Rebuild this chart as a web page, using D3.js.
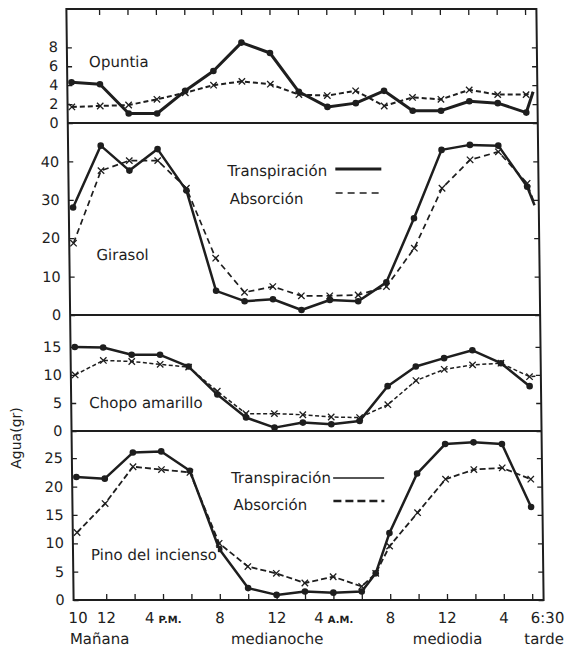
<!DOCTYPE html>
<html><head><meta charset="utf-8">
<script src="https://cdn.jsdelivr.net/npm/d3@7"></script>
<style>
body{margin:0;background:#fff}
svg{display:block}
text{font-family:"DejaVu Sans",sans-serif;fill:#1e1e1e}
</style>
</head><body>
<svg id="chart" width="566" height="648"></svg>
<script>
// ---- data (hours after midnight of day 1; 42.5 = 6:30 p.m. day 2) ----
const hours    = [10,12,14,16,18,20,22,24,26,28,30,32,34,36,38,40,42];
const hoursEnd = [10,12,14,16,18,20,22,24,26,28,30,32,34,36,38,40,42,42.5];
const pinoHours= [10,12,14,16,18,20,22,24,26,28,30,31,32,34,36,38,40,42];

const opuntiaTrans = [4.3,4.1,1.0,1.0,3.4,5.5,8.5,7.4,3.3,1.7,2.1,3.4,1.3,1.3,2.3,2.1,1.1,3.3];
const opuntiaAbs   = [1.7,1.8,1.9,2.5,3.2,4.0,4.4,4.1,3.0,2.9,3.4,1.8,2.7,2.5,3.5,3.0,3.0,3.2];

const girasolTrans = [28,44.1,37.6,43.2,32.4,6.3,3.6,4.1,1.3,3.9,3.6,8.5,25.2,43,44.3,44.1,33.4,28.6];
const girasolAbs   = [18.7,37.6,40.2,40.2,33,14.8,5.9,7.4,5.0,5.0,5.2,7.4,17.4,33,40.4,42.5,34.3,29];

const chopoTrans = [15,14.9,13.6,13.6,11.5,6.5,2.4,0.6,1.5,1.2,1.8,8.0,11.5,13.0,14.4,12.1,8.0];
const chopoAbs   = [10,12.6,12.4,11.9,11.4,7.1,3.1,3.1,2.9,2.5,2.4,4.7,9.0,11.0,11.8,12.1,9.7,9.8];

const pinoTrans = [21.7,21.4,26.0,26.2,22.8,9,2.1,0.9,1.5,1.3,1.5,4.7,11.8,22.3,27.5,27.8,27.5,16.4];
const pinoAbs   = [11.9,17,23.5,23.0,22.5,10,5.9,4.7,3.0,4.1,2.4,4.7,9.5,15.4,21.3,23.0,23.3,21.3];

const opuntiaTicks = [0,2,4,6,8];
const girasolTicks = [0,10,20,30,40];
const chopoTicks   = [0,5,10,15];
const pinoTicks    = [0,5,10,15,20,25];

const xTickHours  = [12,14,16,18,20,22,24,26,28,30,32,34,36,38,40,42];
const xLabelHours = [10,12,16,20,24,28,32,36,40,42.5];
const xLabelMain  = ["10","12","4","8","12","4","8","12","4","6:30"];
const xLabelSub   = ["","","P.M.","","","A.M.","","","",""];
const periodHours = [11.5,24,36,42.8];
const periodNames = ["Mañana","medianoche","mediodia","tarde"];

const legendNames = ["Transpiración","Absorción"];
const yTitle = "Agua(gr)";

// ---- layout ----
const L = 70, R = 540;
const ink = "#1e1e1e";
const svg = d3.select("#chart");
const g = svg.append("g").attr("transform","translate(0,305) skewX(0.7) translate(0,-305)");
const x = d3.scaleLinear().domain([9.7, 42.8]).range([L, R]);

const panels = [
  {name:"Opuntia", bottom:123, top:9, max:12.05, ticks:opuntiaTicks,
   tH:hoursEnd, t:opuntiaTrans, aH:hoursEnd, a:opuntiaAbs,
   tw:3, aw:2, dash:"5,3", label:[92,67]},
  {name:"Girasol", bottom:315, top:123, max:50, ticks:girasolTicks,
   tH:hoursEnd, t:girasolTrans, aH:hoursEnd, a:girasolAbs,
   tw:2.5, aw:1.7, dash:"6,4", label:[97,260],
   legend:{tx:229, ty:176, ay:204, lx1:337, lx2:383, ly1:169, ly2:193, tw:3, aw:1.4, dash:"7,5"}},
  {name:"Chopo amarillo", bottom:431, top:315, max:20.7, ticks:chopoTicks,
   tH:hours, t:chopoTrans, aH:hoursEnd, a:chopoAbs,
   tw:2.5, aw:1.5, dash:"4,2.5", label:[88,408]},
  {name:"Pino del incienso", bottom:600, top:431, max:29.8, ticks:pinoTicks,
   tH:pinoHours, t:pinoTrans, aH:pinoHours, a:pinoAbs,
   tw:2.5, aw:1.8, dash:"6,3", label:[88,560],
   legend:{tx:229, ty:483, ay:510, lx1:331, lx2:382, ly1:478, ly2:501, tw:1.6, aw:2.6, dash:"8,4"}}
];

panels.forEach(p => {
  const y = d3.scaleLinear().domain([0, p.max]).range([p.bottom, p.top]);
  const pg = g.append("g");

  // y axes (inner ticks)
  const ay = pg.append("g").attr("transform",`translate(${L},0)`)
    .call(d3.axisLeft(y).tickValues(p.ticks).tickSize(-5).tickPadding(9).tickFormat(d3.format("d")));
  ay.attr("font-size",14.5).attr("font-family","DejaVu Sans");
  ay.select(".domain").remove();
  ay.selectAll("line").attr("stroke",ink).attr("stroke-width",1.3);
  ay.selectAll("text").attr("fill",ink);
  const ayr = pg.append("g").attr("transform",`translate(${R},0)`)
    .call(d3.axisRight(y).tickValues(p.ticks).tickSize(-5).tickFormat(""));
  ayr.select(".domain").remove();
  ayr.selectAll("line").attr("stroke",ink).attr("stroke-width",1.3);

  const line = d3.line().x(d => x(d[0])).y(d => y(d[1]));
  const tData = p.tH.map((h,i) => [h, p.t[i]]);
  const aData = p.aH.map((h,i) => [h, p.a[i]]);

  pg.append("path").datum(aData).attr("d", line).attr("fill","none")
    .attr("stroke",ink).attr("stroke-width",p.aw).attr("stroke-dasharray",p.dash);
  pg.append("path").datum(tData).attr("d", line).attr("fill","none")
    .attr("stroke",ink).attr("stroke-width",p.tw).attr("stroke-linejoin","round");

  pg.selectAll(".xm").data(aData.filter(d => d[0] <= 42)).enter().append("path")
    .attr("d", d => { const cx = x(d[0]), cy = y(d[1]), s = 3.2;
      return `M${cx-s},${cy-s}L${cx+s},${cy+s}M${cx-s},${cy+s}L${cx+s},${cy-s}`; })
    .attr("stroke",ink).attr("stroke-width",1.3);
  pg.selectAll(".dot").data(tData.filter(d => d[0] <= 42)).enter().append("circle")
    .attr("cx", d => x(d[0])).attr("cy", d => y(d[1])).attr("r", 3.3).attr("fill",ink);

  // panel name with white backing
  const bg = pg.append("rect").attr("fill","#fff");
  const nt = pg.append("text").attr("x",p.label[0]).attr("y",p.label[1])
    .attr("font-size",15).text(p.name);
  const bb = nt.node().getBBox();
  bg.attr("x",bb.x-1).attr("y",bb.y+2).attr("width",bb.width+2).attr("height",Math.max(0,bb.height-4));

  if (p.legend) {
    const lg = p.legend;
    pg.append("text").attr("x",lg.tx).attr("y",lg.ty).attr("font-size",15).text(legendNames[0]);
    pg.append("text").attr("x",lg.tx+2).attr("y",lg.ay).attr("font-size",15).text(legendNames[1]);
    pg.append("line").attr("x1",lg.lx1).attr("x2",lg.lx2).attr("y1",lg.ly1).attr("y2",lg.ly1)
      .attr("stroke",ink).attr("stroke-width",lg.tw);
    pg.append("line").attr("x1",lg.lx1).attr("x2",lg.lx2).attr("y1",lg.ly2).attr("y2",lg.ly2)
      .attr("stroke",ink).attr("stroke-width",lg.aw).attr("stroke-dasharray",lg.dash);
  }
});

// frame and separators
g.append("rect").attr("x",L).attr("y",9).attr("width",R-L).attr("height",591)
  .attr("fill","none").attr("stroke",ink).attr("stroke-width",2);
panels.slice(0,3).forEach(p => {
  g.append("line").attr("x1",L).attr("x2",R).attr("y1",p.bottom).attr("y2",p.bottom)
    .attr("stroke",ink).attr("stroke-width",2);
});

// x ticks top & bottom (inner)
const axT = g.append("g").attr("transform","translate(0,9)")
  .call(d3.axisTop(x).tickValues(xTickHours).tickSize(-6).tickFormat(""));
axT.select(".domain").remove();
axT.selectAll("line").attr("stroke",ink).attr("stroke-width",1.3);
const axB = g.append("g").attr("transform","translate(0,600)")
  .call(d3.axisBottom(x).tickValues(xTickHours).tickSize(-6).tickFormat(""));
axB.select(".domain").remove();
axB.selectAll("line").attr("stroke",ink).attr("stroke-width",1.3);

// x labels
xLabelHours.forEach((h,i) => {
  const t = g.append("text").attr("x", x(h) + (h === 42.5 ? 8 : 0)).attr("y", 623)
    .attr("text-anchor","middle").attr("font-size",15);
  t.append("tspan").text(xLabelMain[i]);
  if (xLabelSub[i]) t.append("tspan").attr("font-size",10).attr("font-weight","bold").attr("dx",4).text(xLabelSub[i]);
});
periodHours.forEach((h,i) => {
  g.append("text").attr("x", x(h)).attr("y", 644).attr("text-anchor","middle")
    .attr("font-size",15).text(periodNames[i]);
});

// y title
svg.append("text").attr("transform","translate(21,438) rotate(-90)")
  .attr("text-anchor","middle").attr("font-size",14).text(yTitle);
</script>
</body></html>
